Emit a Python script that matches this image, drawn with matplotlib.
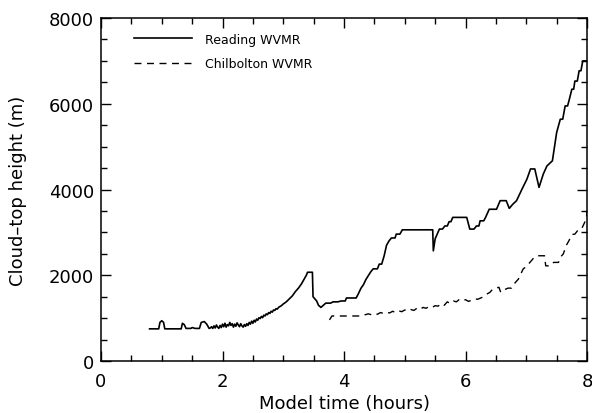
import numpy as np
import matplotlib
matplotlib.use("Agg")
import matplotlib.pyplot as plt
from matplotlib.ticker import MultipleLocator

# Reading WVMR cloud-top height (model time in hours, height in m)
reading_t = [0.80, 0.95, 0.97, 1.00, 1.03, 1.05, 1.32, 1.34, 1.37, 1.40, 1.48, 1.50, 1.55,
             1.62, 1.65, 1.70, 1.74, 1.78, 1.80, 1.82, 1.84, 1.86, 1.88, 1.90, 1.92, 1.94,
             1.96, 1.98, 2.00, 2.02, 2.04, 2.06, 2.08, 2.10, 2.12, 2.14, 2.16, 2.18, 2.20,
             2.22, 2.24, 2.26, 2.28, 2.30, 2.32, 2.34, 2.36, 2.38, 2.40, 2.42, 2.44, 2.46,
             2.48, 2.50, 2.52, 2.54, 2.56, 2.58, 2.60, 2.62, 2.64, 2.66, 2.68, 2.70, 2.72,
             2.74, 2.76, 2.78, 2.80, 2.82, 2.84, 2.86, 2.88, 2.90, 2.93, 2.96, 3.00, 3.05,
             3.10, 3.15, 3.20, 3.25, 3.30, 3.34, 3.38, 3.40, 3.48,
             3.49, 3.52, 3.55, 3.58, 3.62, 3.66, 3.70, 3.78, 3.82, 3.90, 3.95, 4.02, 4.04,
             4.20, 4.24, 4.28, 4.32, 4.36, 4.40, 4.44, 4.48, 4.55, 4.58, 4.62, 4.66, 4.70,
             4.74, 4.78, 4.84, 4.86, 4.92, 4.96, 5.46, 5.47, 5.50, 5.57, 5.62, 5.66, 5.70,
             5.73, 5.76, 5.79, 6.02, 6.07, 6.14, 6.18, 6.22, 6.24, 6.30, 6.33, 6.39, 6.51,
             6.57, 6.67, 6.72, 6.78, 6.84, 6.93, 7.01, 7.07, 7.14, 7.21, 7.28, 7.34, 7.43,
             7.50, 7.56, 7.60, 7.64, 7.68, 7.71, 7.75, 7.78, 7.80, 7.84, 7.87, 7.90, 7.93,
             8.00]
reading_h = [750, 750, 900, 940, 900, 750, 750, 880, 850, 760, 760, 780, 760,
             760, 900, 920, 860, 760, 770, 800, 760, 820, 770, 840, 790, 760,
             830, 780, 860, 800, 880, 790, 850, 820, 900, 830, 870, 790, 860,
             810, 890, 840, 800, 870, 820, 790, 850, 810, 870, 830, 900, 860,
             930, 880, 950, 910, 980, 950, 1010, 990, 1040, 1010, 1070, 1050, 1100,
             1080, 1130, 1110, 1160, 1140, 1190, 1180, 1220, 1210, 1260, 1280, 1330, 1380,
             1450, 1520, 1620, 1700, 1800, 1900, 2000, 2070, 2070,
             1500, 1450, 1400, 1300, 1250, 1300, 1350, 1350, 1380, 1380, 1400, 1400, 1470,
             1470, 1580, 1700, 1780, 1900, 1990, 2080, 2150, 2150, 2260, 2260, 2450, 2700,
             2800, 2870, 2870, 2960, 2960, 3060, 3060, 2570, 2850, 3077, 3077, 3150, 3150,
             3250, 3250, 3350, 3350, 3077, 3077, 3150, 3150, 3270, 3270, 3350, 3540, 3540,
             3740, 3740, 3560, 3660, 3740, 4010, 4240, 4480, 4480, 4050, 4360, 4550, 4670,
             5330, 5640, 5640, 5950, 5950, 6110, 6340, 6340, 6530, 6530, 6770, 6770, 7000,
             7000]

# Chilbolton WVMR cloud-top height
chil_t = [3.76, 3.78, 3.80, 4.30, 4.35, 4.40, 4.45, 4.50, 4.55, 4.60, 4.65, 4.70, 4.75,
          4.80, 4.85, 4.90, 4.95, 5.00, 5.05, 5.10, 5.15, 5.20, 5.25, 5.30, 5.35, 5.40,
          5.45, 5.50, 5.55, 5.60, 5.65, 5.70, 5.75, 5.80, 5.85, 5.90, 5.95, 6.00, 6.05,
          6.10, 6.15, 6.20, 6.25, 6.30, 6.35, 6.40, 6.45, 6.50, 6.55, 6.58, 6.62, 6.70,
          6.76, 6.80, 6.87, 6.95, 7.00, 7.06, 7.12, 7.17, 7.30, 7.32, 7.40, 7.45, 7.53,
          7.58, 7.61, 7.66, 7.70, 7.75, 7.80, 7.85, 7.91, 7.95, 7.99, 8.00]
chil_h = [960, 1000, 1050, 1050, 1080, 1100, 1080, 1110, 1090, 1130, 1110, 1140, 1120,
          1160, 1130, 1170, 1150, 1190, 1160, 1200, 1180, 1230, 1200, 1250, 1230, 1270,
          1250, 1290, 1280, 1340, 1300, 1380, 1340, 1400, 1380, 1440, 1410, 1430, 1390,
          1420, 1450, 1440, 1470, 1500, 1560, 1600, 1680, 1700, 1720, 1600, 1650, 1700,
          1700, 1800, 1910, 2150, 2200, 2300, 2400, 2455, 2455, 2220, 2220, 2300, 2300,
          2450, 2500, 2700, 2800, 2950, 2960, 3050, 3080, 3200, 3320, 3500]

fig = plt.figure(figsize=(5.92, 4.14), dpi=100)
ax = fig.add_axes([0.1706, 0.1256, 0.8210, 0.8284])

ax.plot(reading_t, reading_h, color='black', lw=1.2, label='Reading WVMR')
ax.plot(chil_t, chil_h, color='black', lw=1.0, ls=(0, (5, 4)), label='Chilbolton WVMR')

ax.set_xlim(0, 8)
ax.set_ylim(0, 8000)
ax.xaxis.set_major_locator(MultipleLocator(2))
ax.xaxis.set_minor_locator(MultipleLocator(0.5))
ax.yaxis.set_major_locator(MultipleLocator(2000))
ax.yaxis.set_minor_locator(MultipleLocator(500))
ax.tick_params(which='both', direction='in', top=True, right=True, labelsize=13, width=1)
ax.tick_params(axis='x', which='major', length=7, pad=8)
ax.tick_params(axis='y', which='major', length=7, pad=5)
ax.tick_params(which='minor', length=4)
for s in ax.spines.values():
    s.set_linewidth(1.1)

ax.set_xlabel('Model time (hours)', fontsize=13, labelpad=3)
ax.set_ylabel('Cloud\u2013top height (m)', fontsize=13, labelpad=16)

ax.legend(loc='upper left', bbox_to_anchor=(0.045, 0.99), frameon=False, fontsize=9,
          handlelength=4.6, handletextpad=1.1, labelspacing=0.9)

fig.savefig('out.png', dpi=100)
